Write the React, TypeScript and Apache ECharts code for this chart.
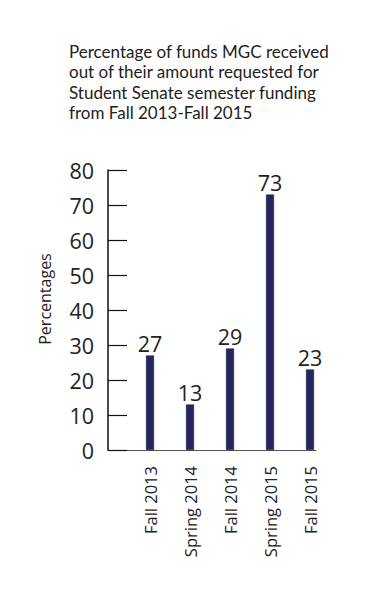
import React, { useEffect, useRef } from "react";
import * as echarts from "echarts";

const titleLines = [
  "Percentage of funds MGC received",
  "out of their amount requested for",
  "Student Senate semester funding",
  "from Fall 2013-Fall 2015",
];
const categories = ["Fall 2013", "Spring 2014", "Fall 2014", "Spring 2015", "Fall 2015"];
const values = [27, 13, 29, 73, 23];
const yTicks = [0, 10, 20, 30, 40, 50, 60, 70, 80];
const yAxisName = "Percentages";

const FONT = "'Open Sans', 'Noto Sans', sans-serif";
const TITLE_FONT = "Lato, 'Open Sans', sans-serif";
const INK = "#222222";
const BAR = "#26265e";

export default function App() {
  const ref = useRef<HTMLDivElement>(null);
  useEffect(() => {
    if (!ref.current) return;
    const chart = echarts.init(ref.current, null, { renderer: "svg" });
    chart.setOption({
      animation: false,
      backgroundColor: "#ffffff",
      title: {
        text: titleLines.join("\n"),
        left: 64,
        top: 36,
        textStyle: {
          fontFamily: TITLE_FONT,
          fontSize: 17,
          lineHeight: 20.5,
          fontWeight: "normal",
          color: INK,
        },
      },
      grid: [
        { left: 130, right: 54, top: 170, bottom: 150 },
        { left: 108, right: 68, top: 170, bottom: 150 },
      ],
      xAxis: [
        {
          type: "category",
          gridIndex: 0,
          data: categories,
          axisLine: { show: false },
          axisTick: { show: false },
          axisLabel: {
            rotate: 90,
            margin: 16,
            fontFamily: FONT,
            fontSize: 16.5,
            color: INK,
          },
        },
        {
          type: "category",
          gridIndex: 1,
          data: [],
          axisLine: { show: true, lineStyle: { color: "#555555", width: 1 } },
          axisTick: { show: false },
          axisLabel: { show: false },
        },
      ],
      yAxis: [
        {
          type: "value",
          gridIndex: 0,
          min: yTicks[0],
          max: yTicks[yTicks.length - 1],
          interval: yTicks[1] - yTicks[0],
          offset: 22,
          name: yAxisName,
          nameLocation: "middle",
          nameGap: 55,
          nameTextStyle: {
            fontFamily: FONT,
            fontSize: 16,
            color: INK,
            padding: [0, 0, 0, 22],
          },
          splitLine: { show: false },
          axisLine: { show: true, lineStyle: { color: "#111111", width: 1.5 } },
          axisTick: { show: true, inside: true, length: 19, lineStyle: { color: "#111111", width: 1.2 } },
          axisLabel: {
            margin: 14,
            fontFamily: FONT,
            fontSize: 21.5,
            color: INK,
          },
        },
        {
          type: "value",
          gridIndex: 1,
          min: 0,
          max: 80,
          show: false,
        },
      ],
      series: [
        {
          type: "bar",
          xAxisIndex: 0,
          yAxisIndex: 0,
          data: values,
          barWidth: 8,
          itemStyle: { color: BAR, borderColor: "#15153f", borderWidth: 0.5 },
          label: {
            show: true,
            position: "top",
            distance: 1,
            fontFamily: FONT,
            fontSize: 21.5,
            color: INK,
          },
        },
      ],
    });
    return () => chart.dispose();
  }, []);
  return (
    <div
      ref={ref}
      style={{ position: "fixed", left: 0, top: 0, width: 384, height: 600, background: "#fff" }}
    />
  );
}
